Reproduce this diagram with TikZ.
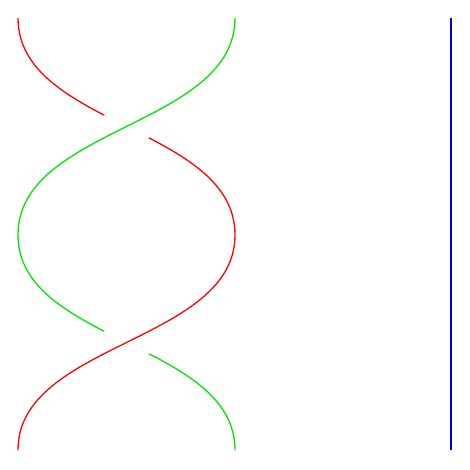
\documentclass[tikz,border=0pt]{standalone}
\usetikzlibrary{positioning}
\definecolor{strandred}{RGB}{255,0,0}
\definecolor{strandgreen}{RGB}{0,230,0}
\definecolor{strandblue}{RGB}{0,0,210}

\begin{document}
\begin{tikzpicture}[x=1pt,y=-1pt,
  strand/.style={line width=1.3pt},
  over/.style={strand,preaction={draw=white,line width=40pt}},
  redstrand/.style={strandred},
  greenstrand/.style={strandgreen},
  bluestrand/.style={strandblue}
]
\useasboundingbox (0,0) rectangle (469,470);
% strand ends and turning points
\coordinate (topleft) at (18,18);
\coordinate (topmid) at (235,18);
\coordinate (topright) at (451,18);
\coordinate (midleft) at (18,235);
\coordinate (midmid) at (235,235);
\coordinate (botleft) at (18,450);
\coordinate (botmid) at (235,450);
\coordinate (botright) at (451,450);
% first crossing: green over red
\draw[strand,redstrand] (topleft) .. controls (18,126.5) and (235,126.5) .. (midmid);
\draw[over,greenstrand] (topmid) .. controls (235,126.5) and (18,126.5) .. (midleft);
% second crossing: red over green
\draw[strand,greenstrand] (midleft) .. controls (18,342.5) and (235,342.5) .. (botmid);
\draw[over,redstrand] (midmid) .. controls (235,342.5) and (18,342.5) .. (botleft);
% third strand
\draw[strand,bluestrand] (topright) -- (botright);
\end{tikzpicture}
\end{document}
